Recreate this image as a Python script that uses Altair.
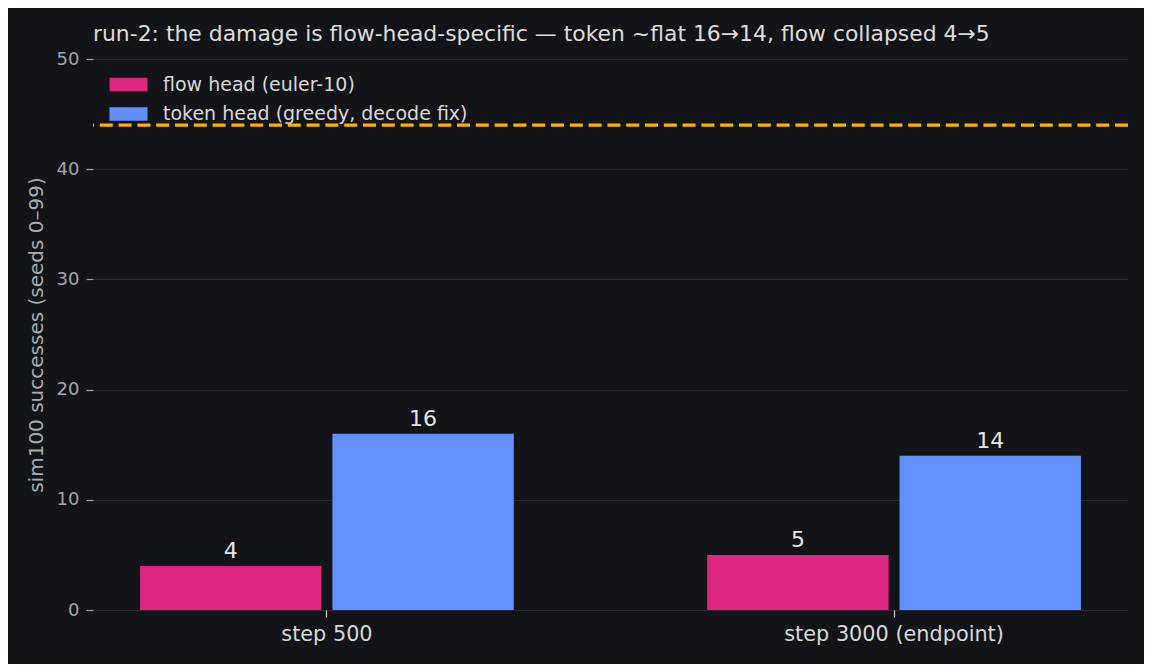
import altair as alt
import pandas as pd

# ---- data ----
steps = ["step 500", "step 3000 (endpoint)"]
heads = ["flow head (euler-10)", "token head (greedy, decode fix)"]
flow_values = [4, 5]
token_values = [16, 14]
ref_line = [44]
y_ticks = [0, 10, 20, 30, 40, 50]
title_text = "run-2: the damage is flow-head-specific — token ~flat 16→14, flow collapsed 4→5"
y_title = "sim100 successes (seeds 0–99)"
colors = ["#DC267F", "#648FFF"]

rows = []
for i, s in enumerate(steps):
    rows.append({"step": s, "head": heads[0], "value": flow_values[i]})
    rows.append({"step": s, "head": heads[1], "value": token_values[i]})
df = pd.DataFrame(rows)
ref_df = pd.DataFrame({"ref": ref_line})

BG = "#131418"

x_enc = alt.X(
    "step:N",
    sort=steps,
    scale=alt.Scale(paddingInner=0.341, paddingOuter=0.083),
    axis=alt.Axis(
        title=None, labelAngle=0, domain=False, ticks=True, tickSize=7,
        tickColor="#d0d0d0", tickWidth=1.2, labelFontSize=20.8,
        labelColor="#d8d8d8", labelPadding=7, grid=False, labelLimit=0,
    ),
)
xo_enc = alt.XOffset("head:N", sort=heads,
                     scale=alt.Scale(paddingInner=0.057, paddingOuter=0))
y_enc = alt.Y(
    "value:Q",
    scale=alt.Scale(domain=[0, 50], nice=False),
    axis=alt.Axis(
        title=y_title, values=y_ticks, domain=False, tickSize=7,
        tickColor="#9a9ea4", tickWidth=1.2, labelFontSize=18,
        labelColor="#a2a6ab", labelPadding=7, grid=True,
        gridColor="#2a2c31", gridWidth=1, titleFontSize=20,
        titleFontWeight="normal", titleColor="#a8acb1", titlePadding=10,
    ),
)

legend_path = "M-2.714,-0.95H2.714V0.95H-2.714Z"

bars = alt.Chart(df).mark_bar().encode(
    x=x_enc,
    xOffset=xo_enc,
    y=y_enc,
    color=alt.Color(
        "head:N", sort=heads,
        scale=alt.Scale(domain=heads, range=colors),
        legend=alt.Legend(
            title=None, orient="none", legendX=14, legendY=16,
            symbolType=legend_path, symbolSize=196, symbolOffset=12,
            labelOffset=25, labelFontSize=19, labelColor="#d8d8d8",
            rowPadding=9.5, padding=0, symbolStrokeWidth=0,
            symbolOpacity=1, labelLimit=0,
        ),
    ),
)

text = alt.Chart(df).mark_text(
    align="center", baseline="alphabetic", dy=-8, fontSize=22, color="#e4e4e4"
).encode(
    x=alt.X("step:N", sort=steps),
    xOffset=alt.XOffset("head:N", sort=heads),
    y=alt.Y("value:Q"),
    text=alt.Text("value:Q"),
)

rule = alt.Chart(ref_df).mark_rule(
    color="#FFB000", strokeWidth=3.2, strokeDash=[13, 5.8]
).encode(y=alt.Y("ref:Q"))

chart = alt.layer(bars, text, rule).properties(
    width=1035,
    height=551,
    title=alt.TitleParams(
        text=title_text, anchor="start", frame="group", fontSize=21.9,
        fontWeight="normal", color="#dcdcdc", offset=13, baseline="bottom",
        dy=31,
    ),
    padding={"left": 85, "top": 51, "right": 16, "bottom": 54},
    autosize=alt.AutoSizeParams(type="none"),
).configure(
    background=BG, font="DejaVu Sans"
).configure_view(stroke=None)

chart.save("out.html", embed_options={"renderer": "svg", "actions": False})
